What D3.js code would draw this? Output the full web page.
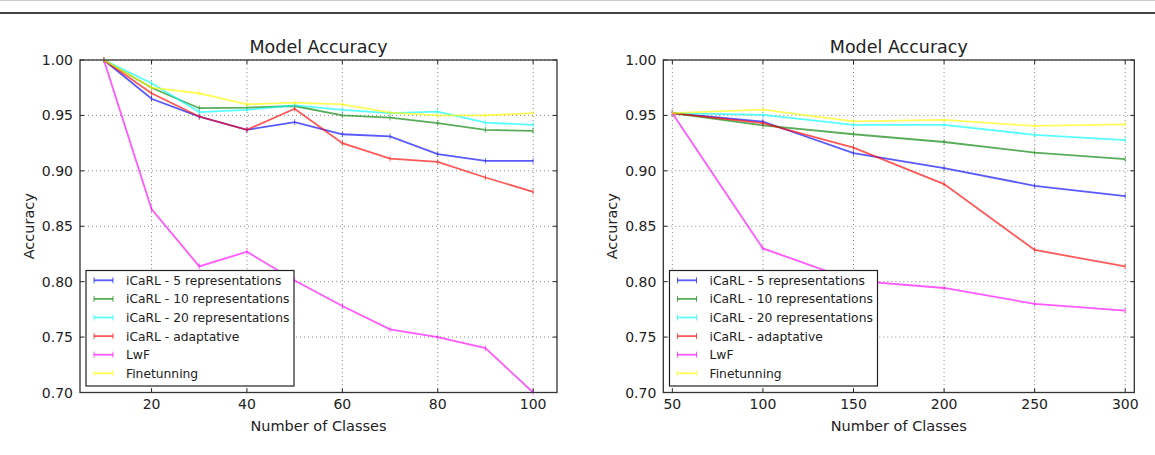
<html>
  <head>
    <title>Model Accuracy</title>
    <script type="text/javascript" src="https://cdn.jsdelivr.net/npm/d3@7" charset="utf-8"></script>
    <style>
      body { margin: 0; background: #fff; }
      text { font-family: "DejaVu Sans", sans-serif; fill: #222; }
    </style>
  </head>
  <body>
    <div id="main"></div>
  <script>
    // series names / colours (same for both panels)
    var seriesNames = ["iCaRL - 5 representations", "iCaRL - 10 representations",
      "iCaRL - 20 representations", "iCaRL - adaptative", "LwF", "Finetunning"];
    var seriesColors = ["#0000ff", "#008000", "#00ffff", "#ff0000", "#ff00ff", "#ffff00"];

    // left panel: 10..100 classes
    var classesA = [10, 20, 30, 40, 50, 60, 70, 80, 90, 100];
    var accA_icarl5  = [1.0, 0.965, 0.949, 0.937, 0.944, 0.933, 0.931, 0.915, 0.909, 0.909];
    var accA_icarl10 = [1.0, 0.975, 0.9565, 0.957, 0.9585, 0.950, 0.948, 0.943, 0.937, 0.936];
    var accA_icarl20 = [1.0, 0.979, 0.953, 0.955, 0.959, 0.955, 0.952, 0.9535, 0.9435, 0.9415];
    var accA_adapt   = [1.0, 0.970, 0.949, 0.937, 0.956, 0.925, 0.911, 0.908, 0.894, 0.881];
    var accA_lwf     = [1.0, 0.8655, 0.8138, 0.827, 0.801, 0.778, 0.757, 0.750, 0.740, 0.700];
    var accA_fine    = [1.0, 0.975, 0.970, 0.960, 0.9615, 0.960, 0.9525, 0.950, 0.950, 0.952];
    var ticksA = [20, 40, 60, 80, 100];

    // right panel: 50..300 classes
    var classesB = [50, 100, 150, 200, 250, 300];
    var accB_icarl5  = [0.952, 0.9445, 0.916, 0.9025, 0.8865, 0.8772];
    var accB_icarl10 = [0.952, 0.941, 0.933, 0.926, 0.9165, 0.9105];
    var accB_icarl20 = [0.952, 0.9505, 0.9415, 0.9415, 0.9325, 0.9277];
    var accB_adapt   = [0.952, 0.943, 0.921, 0.888, 0.8286, 0.8138];
    var accB_lwf     = [0.952, 0.830, 0.801, 0.7943, 0.780, 0.7739];
    var accB_fine    = [0.952, 0.9553, 0.9447, 0.946, 0.9405, 0.942];
    var ticksB = [50, 100, 150, 200, 250, 300];

    var yTicks = [0.70, 0.75, 0.80, 0.85, 0.90, 0.95, 1.00];

    var svgWidth = 1155;
    var svgHeight = 455;

    var svg = d3.select("#main")
          .append("svg")
          .attr("width", svgWidth)
          .attr("height", svgHeight);

    // page rules at the top
    svg.append("line").attr("x1", 0).attr("x2", svgWidth).attr("y1", 0.5).attr("y2", 0.5)
      .style("stroke", "#ccc").style("stroke-width", 1);
    svg.append("line").attr("x1", 0).attr("x2", svgWidth).attr("y1", 13).attr("y2", 13)
      .style("stroke", "#444").style("stroke-width", 2);

    function drawPanel(left, right, xDomain, classes, seriesList, xTicks, legendX) {
      var top = 60, bottom = 392.5;
      var x = d3.scaleLinear().domain(xDomain).range([left, right]);
      var y = d3.scaleLinear().domain([0.70, 1.00]).range([bottom, top]);
      var g = svg.append("g");

      // dotted grid
      g.selectAll(".gx").data(xTicks).enter().append("line")
        .attr("x1", d => x(d)).attr("x2", d => x(d)).attr("y1", top).attr("y2", bottom)
        .style("stroke", "#888").style("stroke-width", 1).style("stroke-dasharray", "1,3");
      g.selectAll(".gy").data(yTicks).enter().append("line")
        .attr("x1", left).attr("x2", right).attr("y1", d => y(d)).attr("y2", d => y(d))
        .style("stroke", "#888").style("stroke-width", 1).style("stroke-dasharray", "1,3");

      // lines + little error ticks
      var line = d3.line().x((d, i) => x(classes[i])).y(d => y(d));
      seriesList.forEach(function(vals, k) {
        g.append("path").attr("d", line(vals))
          .style("fill", "none").style("stroke", seriesColors[k])
          .style("stroke-opacity", 0.65).style("stroke-width", 1.8);
        g.selectAll(null).data(vals).enter().append("line")
          .attr("x1", (d, i) => x(classes[i])).attr("x2", (d, i) => x(classes[i]))
          .attr("y1", d => y(d) - 3).attr("y2", d => y(d) + 3)
          .style("stroke", seriesColors[k]).style("stroke-opacity", 0.5).style("stroke-width", 1);
      });

      // inward ticks on all four sides
      xTicks.forEach(function(t) {
        g.append("line").attr("x1", x(t)).attr("x2", x(t)).attr("y1", bottom).attr("y2", bottom - 4).style("stroke", "#222");
        g.append("line").attr("x1", x(t)).attr("x2", x(t)).attr("y1", top).attr("y2", top + 4).style("stroke", "#222");
      });
      yTicks.forEach(function(t) {
        g.append("line").attr("x1", left).attr("x2", left + 4).attr("y1", y(t)).attr("y2", y(t)).style("stroke", "#222");
        g.append("line").attr("x1", right).attr("x2", right - 4).attr("y1", y(t)).attr("y2", y(t)).style("stroke", "#222");
      });

      // frame
      g.append("rect").attr("x", left).attr("y", top).attr("width", right - left).attr("height", bottom - top)
        .style("fill", "none").style("stroke", "#333").style("stroke-width", 1.3);

      // tick labels
      g.selectAll(".xl").data(xTicks).enter().append("text")
        .attr("x", d => x(d)).attr("y", 409).attr("text-anchor", "middle")
        .style("font-size", "14px").text(d => d);
      g.selectAll(".yl").data(yTicks).enter().append("text")
        .attr("x", left - 7).attr("y", d => y(d) + 5).attr("text-anchor", "end")
        .style("font-size", "14px").text(d => d.toFixed(2));

      // title and axis labels
      var cx = (left + right) / 2;
      g.append("text").attr("x", cx).attr("y", 53).attr("text-anchor", "middle")
        .style("font-size", "17.5px").text("Model Accuracy");
      g.append("text").attr("x", cx).attr("y", 431).attr("text-anchor", "middle")
        .style("font-size", "14.5px").text("Number of Classes");
      g.append("text").attr("transform", "translate(" + (left - 46) + "," + ((top + bottom) / 2) + ") rotate(-90)")
        .attr("text-anchor", "middle").style("font-size", "14.5px").text("Accuracy");

      // legend
      var lg = g.append("g");
      lg.append("rect").attr("x", legendX).attr("y", 270.5).attr("width", 208).attr("height", 115.5)
        .style("fill", "#fff").style("stroke", "#222").style("stroke-width", 1.2);
      seriesNames.forEach(function(name, k) {
        var ly = 280.3 + k * 18.6;
        var hx = legendX + 8;
        lg.append("line").attr("x1", hx).attr("x2", hx + 19).attr("y1", ly).attr("y2", ly)
          .style("stroke", seriesColors[k]).style("stroke-opacity", 0.65).style("stroke-width", 1.8);
        [hx, hx + 19].forEach(function(cxp) {
          lg.append("line").attr("x1", cxp).attr("x2", cxp).attr("y1", ly - 3).attr("y2", ly + 3)
            .style("stroke", seriesColors[k]).style("stroke-opacity", 0.65).style("stroke-width", 1);
        });
        lg.append("text").attr("x", legendX + 40).attr("y", ly + 4.5)
          .style("font-size", "12.3px").text(name);
      });
    }

    drawPanel(80, 557, [5, 105], classesA,
      [accA_icarl5, accA_icarl10, accA_icarl20, accA_adapt, accA_lwf, accA_fine], ticksA, 86);
    drawPanel(663.3, 1134.3, [45, 305], classesB,
      [accB_icarl5, accB_icarl10, accB_icarl20, accB_adapt, accB_lwf, accB_fine], ticksB, 669.5);
  </script>
  </body>
</html>
